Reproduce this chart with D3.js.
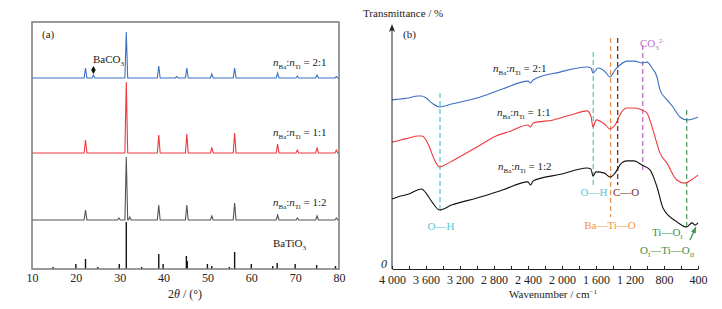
<!DOCTYPE html>
<html>
<head>
<meta charset="utf-8">
<script src="https://cdn.jsdelivr.net/npm/d3@7"></script>
<style>
  body { margin: 0; background: #fff; }
  svg, svg text { font-family: "Liberation Serif", "DejaVu Serif", serif; }
</style>
</head>
<body>
<div id="chart"></div>
<script>
// ---- panel (a) XRD data ----
const xrdPeaks = [22.2, 31.5, 38.9, 45.3, 51.0, 56.2, 66.0, 70.5, 75.0, 79.4];
const xrdBlue  = [10, 46, 12, 10, 4, 10, 5, 2, 3, 1.5];   // 2:1
const xrdRed   = [13, 71, 18, 19, 5, 20, 9, 3, 5, 3];     // 1:1
const xrdGrey  = [10, 63, 15, 15, 4, 17, 5, 2, 4, 2];     // 1:2
const blueExtraX = [24.0, 43.0];
const blueExtra  = [3, 1.5];
const greyExtraX = [29.8, 32.3];
const greyExtra  = [2, 3];
// BaTiO3 reference pattern (sticks)
const refX = [14.8, 20.0, 22.2, 25.0, 29.9, 31.5, 35.0, 38.9, 39.9, 45.2, 45.4, 50.0, 51.0, 55.0, 56.2, 60.0, 64.9, 65.9, 70.0, 74.9, 79.2];
const refI = [2, 5, 10, 2, 5, 47, 2, 15, 5, 13, 8, 5, 3, 2, 17, 5, 3, 6, 5, 4, 3];
// vertical stacking offsets: sticks, 1:2, 1:1, 2:1
const stackOffset = [0, 49, 116, 191];
const xrdTicks = [10, 20, 30, 40, 50, 60, 70, 80];

// ---- panel (b) FTIR data ----
const wBlue = [4000,3900,3800,3700,3650,3600,3530,3440,3300,3000,2700,2400,2370,2340,2024,1706,1660,1635,1576,1500,1435,1376,1318,1235,1150,1059,1000,940,882,847,765,694,612,529,460,400];
const tBlue = [69.3,69.7,70.1,70.9,70.9,70.1,68.0,66.4,67.6,70.1,73.8,77.0,76.2,77.5,80.7,82.8,82.4,80.3,82.4,81.1,78.7,81.6,83.6,85.2,85.2,84.4,84.8,82.4,78.7,73.4,69.3,66.4,62.3,61.1,61.5,62.3];
const wRed = [4000,3900,3800,3700,3650,3600,3560,3500,3440,3380,3270,3000,2800,2600,2400,2370,2340,2100,1900,1706,1660,1635,1597,1500,1435,1376,1300,1235,1150,1059,1000,930,847,765,650,553,480,400];
const tRed = [52.0,52.9,53.7,54.5,54.5,52.9,50.0,44.7,41.8,42.6,44.7,50.0,54.1,56.6,59.0,58.2,59.8,61.1,63.1,64.8,62.7,58.2,61.1,59.4,57.4,59.0,64.3,66.0,66.0,65.2,63.9,57.0,47.5,43.4,36.5,35.2,36.5,38.5];
const wBlack = [4000,3900,3800,3700,3650,3600,3520,3440,3300,3000,2700,2400,2370,2340,2000,1706,1660,1635,1600,1500,1435,1376,1300,1235,1150,1059,965,882,812,647,533,471,435,400];
const tBlack = [28.7,29.9,30.7,32.4,32.8,31.1,27.0,24.2,26.2,29.1,32.4,35.7,34.4,36.1,38.9,41.4,41.0,38.1,39.8,39.3,37.7,39.3,43.4,44.3,44.3,42.6,40.6,33.6,25.0,19.3,17.2,18.9,18.0,18.9];
// band markers: wavenumber, top and bottom of dashed line (transmittance units)
const bandW   = [3435, 1632, 1428, 1345, 1050, 533];
const bandTop = [72.1, 88.9, 94.7, 94.7, 91.8, 65.2];
const bandBot = [23.4, 34.4, 21.3, 34.4, 40.6, 16.8];
const bandColor = ["#5cc8d6", "#5cc8d6", "#f2934a", "#7a2e2e", "#c070c8", "#5a9e6a"];
const ftirTicks = d3.range(4000, 399, -200);

const W = 722, H = 309;
const FONT = "Liberation Serif, DejaVu Serif, serif";
const svg = d3.select("#chart").append("svg")
    .attr("width", W)
    .attr("height", H)
    .attr("font-family", FONT);

// helper for text with italic / sub / sup parts
function rich(g, x, y, parts, color, anchor) {
    const t = g.append("text")
        .attr("x", x).attr("y", y)
        .attr("font-size", 11)
        .attr("font-family", FONT)
        .attr("fill", color || "#222")
        .attr("text-anchor", anchor || "start");
    let shift = 0;
    parts.forEach(function(p) {
        const k = p[1] || "";
        const target = k.indexOf("sub") >= 0 ? 3 : (k.indexOf("sup") >= 0 ? -4 : 0);
        const ts = t.append("tspan").attr("dy", target - shift).text(p[0]);
        shift = target;
        if (target !== 0) ts.attr("font-size", 7);
        if (k.indexOf("it") >= 0) ts.attr("font-style", "italic");
    });
    return t;
}
function ratio(r) {
    return [["n", "it"], ["Ba", "sub"], [":"], ["n", "it"], ["Ti", "sub"], [" = " + r]];
}

// ================= panel (a) =================
const ga = svg.append("g");
const xA = d3.scaleLinear().domain([10, 80]).range([32, 339]);
const yA = d3.scaleLinear().domain([0, 247]).range([269, 22]);

// build a stick-like profile from peak lists
function profile(px, ph, ex, eh, off) {
    const pk = px.map((p, i) => [p, ph[i]]).concat(ex.map((p, i) => [p, eh[i]]));
    pk.sort((a, b) => a[0] - b[0]);
    const pts = [[10, off]];
    pk.forEach(function(d) {
        pts.push([d[0] - 0.32, off], [d[0], off + d[1]], [d[0] + 0.32, off]);
    });
    pts.push([80, off]);
    return pts;
}
const lineA = d3.line().x(d => xA(d[0])).y(d => yA(d[1]));

const seriesA = [
    { pts: profile(xrdPeaks, xrdGrey, greyExtraX, greyExtra, stackOffset[1]), color: "#555555" },
    { pts: profile(xrdPeaks, xrdRed, [], [], stackOffset[2]), color: "#ee3a3f" },
    { pts: profile(xrdPeaks, xrdBlue, blueExtraX, blueExtra, stackOffset[3]), color: "#3b70c4" }
];
ga.selectAll("path.xrd")
    .data(seriesA)
    .enter()
    .append("path")
    .attr("class", "xrd")
    .attr("d", d => lineA(d.pts))
    .attr("fill", "none")
    .attr("stroke", d => d.color)
    .attr("stroke-width", 1.1);

// reference sticks
ga.selectAll("line.stick")
    .data(refX)
    .enter()
    .append("line")
    .attr("x1", d => xA(d)).attr("x2", d => xA(d))
    .attr("y1", yA(stackOffset[0]))
    .attr("y2", (d, i) => yA(stackOffset[0] + refI[i]))
    .attr("stroke", "#111")
    .attr("stroke-width", 1.4);

// frame
ga.append("rect")
    .attr("x", xA(10)).attr("y", yA(247))
    .attr("width", xA(80) - xA(10)).attr("height", yA(0) - yA(247))
    .attr("fill", "none")
    .attr("stroke", "#7a7a7a")
    .attr("stroke-width", 1.5);

const axA = ga.append("g")
    .attr("transform", "translate(0," + yA(0) + ")")
    .call(d3.axisBottom(xA).tickValues(xrdTicks).tickSize(0).tickPadding(4));
axA.attr("font-family", FONT);
axA.select(".domain").remove();
axA.selectAll("text").attr("font-size", 12).attr("fill", "#222");

rich(ga, 185, 298, [["2"], ["θ", "it"], [" / (°)"]], "#222", "middle").attr("font-size", 12);

ga.append("text").attr("x", 42).attr("y", 38).attr("font-size", 11).attr("fill", "#222").text("(a)");
rich(ga, 93, 63, [["BaCO"], ["3", "sub"]]);
ga.append("path")
    .attr("d", d3.symbol(d3.symbolDiamond).size(18)())
    .attr("transform", "translate(" + xA(blueExtraX[0]) + "," + (yA(stackOffset[3] + blueExtra[0]) - 5) + ")")
    .attr("fill", "#111");
rich(ga, 273, 66, ratio("2:1"));
rich(ga, 273, 136, ratio("1:1"));
rich(ga, 273, 206, ratio("1:2"));
rich(ga, 273, 247, [["BaTiO"], ["3", "sub"]]);

// ================= panel (b) =================
const gb = svg.append("g");
const xB = d3.scaleLinear().domain([4000, 400]).range([392, 698]);
const yB = d3.scaleLinear().domain([0, 100]).range([269, 25]);

// dashed band lines
gb.selectAll("line.band")
    .data(bandW)
    .enter()
    .append("line")
    .attr("x1", d => xB(d)).attr("x2", d => xB(d))
    .attr("y1", (d, i) => yB(bandTop[i]))
    .attr("y2", (d, i) => yB(bandBot[i]))
    .attr("stroke", (d, i) => bandColor[i])
    .attr("stroke-width", 1.3)
    .attr("stroke-dasharray", "5,3");

const lineB = d3.line().x(d => xB(d[0])).y(d => yB(d[1])).curve(d3.curveMonotoneX);
const seriesB = [
    { w: wBlue, t: tBlue, color: "#3b70c4" },
    { w: wRed, t: tRed, color: "#ee3a3f" },
    { w: wBlack, t: tBlack, color: "#111111" }
];
gb.selectAll("path.ftir")
    .data(seriesB)
    .enter()
    .append("path")
    .attr("class", "ftir")
    .attr("d", d => lineB(d.w.map((w, i) => [w, d.t[i]])))
    .attr("fill", "none")
    .attr("stroke", d => d.color)
    .attr("stroke-width", 1.1);

// axes
const axB = gb.append("g")
    .attr("transform", "translate(0," + yB(0) + ")")
    .call(d3.axisBottom(xB).tickValues(ftirTicks).tickSizeInner(-3).tickSizeOuter(0).tickPadding(6)
        .tickFormat(d => d % 400 === 0 ? (d >= 1000 ? Math.floor(d / 1000) + " " + String(d % 1000).padStart(3, "0") : String(d)) : ""));
axB.attr("font-family", FONT);
axB.select(".domain").attr("stroke", "#222");
axB.selectAll(".tick line").attr("stroke", "#222");
axB.selectAll("text").attr("font-size", 12).attr("fill", "#222");

gb.append("line")
    .attr("x1", xB(4000)).attr("x2", xB(4000))
    .attr("y1", yB(0)).attr("y2", yB(100) + 4)
    .attr("stroke", "#222").attr("stroke-width", 1);
gb.append("path")
    .attr("d", "M" + xB(4000) + "," + (yB(100) - 1) + "l-3,8l3,-2l3,2z")
    .attr("fill", "#222");

gb.append("text").attr("x", 381).attr("y", 268).attr("font-size", 12)
    .attr("font-style", "italic").attr("fill", "#222").text("0");
gb.append("text").attr("x", 363).attr("y", 17).attr("font-size", 11).attr("fill", "#222").text("Transmittance / %");
gb.append("text").attr("x", 403).attr("y", 38).attr("font-size", 11).attr("fill", "#222").text("(b)");
rich(gb, 553, 298, [["Wavenumber / cm"], ["−1", "sup"]], "#222", "middle");

rich(gb, 493, 72, ratio("2:1"));
rich(gb, 497, 116, ratio("1:1"));
rich(gb, 498, 170, ratio("1:2"));

// band labels
rich(gb, 441, 230, [["O—H"]], bandColor[0], "middle");
rich(gb, 594, 196, [["O—H"]], bandColor[1], "middle");
rich(gb, 610, 229, [["Ba—Ti—O"]], bandColor[2], "middle");
rich(gb, 613, 196, [["C—O"]], bandColor[3]);
rich(gb, 640, 47, [["CO"], ["3", "sub"], ["2-", "sup"]], bandColor[4]);
rich(gb, 652, 236, [["Ti—O"], ["I", "sub"]], "#3f8f50");
rich(gb, 640, 254, [["O"], ["I", "sub"], ["—Ti—O"], ["II", "sub"]], "#3f8f50");

// arrow pointing at Ti-O band
const arrowW = [494, 424];
const arrowT = [11.9, 17.2];
gb.append("line")
    .attr("x1", xB(arrowW[0])).attr("y1", yB(arrowT[0]))
    .attr("x2", xB(arrowW[1])).attr("y2", yB(arrowT[1]))
    .attr("stroke", "#3f8f50").attr("stroke-width", 1.3);
const ang = Math.atan2(yB(arrowT[1]) - yB(arrowT[0]), xB(arrowW[1]) - xB(arrowW[0])) * 180 / Math.PI;
gb.append("path")
    .attr("d", "M0,0L-6,-2.5L-6,2.5Z")
    .attr("transform", "translate(" + xB(arrowW[1]) + "," + yB(arrowT[1]) + ") rotate(" + ang + ")")
    .attr("fill", "#3f8f50");
</script>
</body>
</html>
